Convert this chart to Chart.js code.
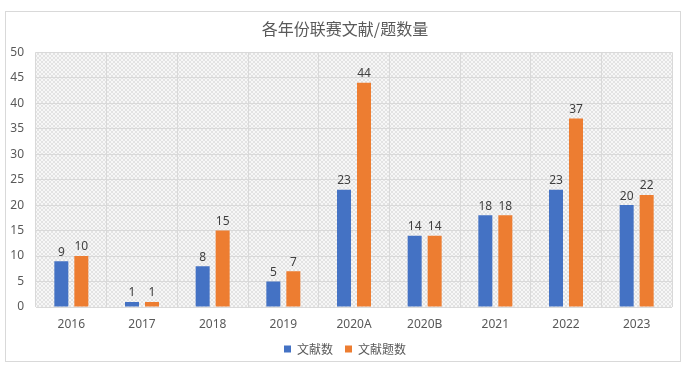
<!DOCTYPE html>
<html><head><meta charset="utf-8">
<script src="https://cdn.jsdelivr.net/npm/chart.js@4/dist/chart.umd.min.js"></script>
<style>html,body{margin:0;padding:0;background:#fff}#wrap{width:686px;height:371px}</style>
</head><body><div id="wrap"><canvas id="c" width="686" height="371"></canvas></div>
<script>
const categories = ['2016','2017','2018','2019','2020A','2020B','2021','2022','2023'];
const docCounts = [9,1,8,5,23,14,18,23,20];
const questionCounts = [10,1,15,7,44,14,18,37,22];
const seriesNames = ['文献数','文献题数'];
const titleText = '各年份联赛文献/题数量';

function makePattern(){
  const p = document.createElement('canvas'); p.width = 4; p.height = 4;
  const g = p.getContext('2d');
  g.fillStyle = '#f7f7f7'; g.fillRect(0,0,4,4);
  g.fillStyle = '#e3e3e3';
  for (let i=0;i<4;i++){ g.fillRect(i,i,1,1); g.fillRect(3-i,i,1,1); }
  return g.createPattern(p,'repeat');
}

const bgPlugin = {
  id:'bg',
  afterLayout(chart){
    const shift = (box, dx, dy) => { if(!box) return; box.left += dx; box.right += dx; box.top += dy; box.bottom += dy; };
    shift(chart.titleBlock, 9, 0);
    shift(chart.legend, 9, -6);
  },
  beforeDraw(chart){
    const {ctx, chartArea:a} = chart;
    ctx.save();
    ctx.fillStyle = '#fff'; ctx.fillRect(0,0,chart.width,chart.height);
    ctx.strokeStyle = '#d9d9d9'; ctx.lineWidth = 1;
    ctx.strokeRect(5.5, 11.5, 675, 350);
    ctx.fillStyle = makePattern();
    ctx.fillRect(a.left, a.top, a.right-a.left, a.bottom-a.top);
    ctx.restore();
  }
};

const labelPlugin = {
  id:'vals',
  afterDatasetsDraw(chart){
    const ctx = chart.ctx;
    ctx.save();
    ctx.font = '12px "Noto Sans", sans-serif';
    ctx.fillStyle = '#404040';
    ctx.textAlign = 'center';
    ctx.textBaseline = 'bottom';
    chart.data.datasets.forEach((ds, i) => {
      chart.getDatasetMeta(i).data.forEach((bar, j) => {
        ctx.fillText(String(ds.data[j]), bar.x, bar.y - 3);
      });
    });
    ctx.restore();
  }
};

new Chart(document.getElementById('c'), {
  type:'bar',
  data:{
    labels: categories,
    datasets:[
      {label: seriesNames[0], data: docCounts, backgroundColor:'#4472C4'},
      {label: seriesNames[1], data: questionCounts, backgroundColor:'#ED7D31'}
    ]
  },
  options:{
    responsive:false, animation:false,
    devicePixelRatio:1,
    layout:{padding:{left:0,right:14,top:0,bottom:0}},
    categoryPercentage:0.566, barPercentage:0.7,
    scales:{
      x:{
        grid:{color:'#d9d9d9', drawTicks:false, offset:true},
        border:{display:false},
        ticks:{color:'#595959', font:{size:12, family:'"Noto Sans", sans-serif'}, padding:10},
        afterFit(s){ s.height = 30; }
      },
      y:{
        min:0, max:50,
        ticks:{stepSize:5, color:'#595959', font:{size:12, family:'"Noto Sans", sans-serif'}, padding:12},
        grid:{color:'#d9d9d9', drawTicks:false},
        border:{display:false},
        afterFit(s){ s.width = 36; }
      }
    },
    plugins:{
      title:{display:true, text:titleText, color:'#595959',
        font:{size:16, weight:'normal', family:'"Noto Sans CJK SC", sans-serif'},
        padding:{top:19, bottom:14}},
      legend:{position:'bottom',
        labels:{boxWidth:7, boxHeight:7, color:'#595959', padding:12,
          font:{size:12, family:'"Noto Sans CJK SC", sans-serif'}}},
      tooltip:{enabled:false}
    }
  },
  plugins:[bgPlugin, labelPlugin]
});
</script></body></html>
